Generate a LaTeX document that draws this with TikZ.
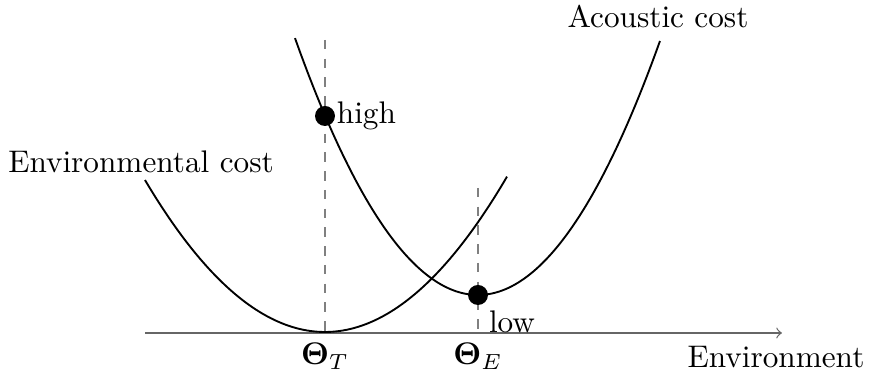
\documentclass[tikz,border=0pt]{standalone}
\usepackage{amsmath}
\usepackage{tikz}
\usetikzlibrary{positioning, arrows}

\begin{document}
\begin{tikzpicture}[x=0.32pt, y=-0.32pt, semithick,
    cost/.style={black, semithick, smooth},
    guide/.style={gray, thin, dashed},
    dot/.style={circle, fill=black, inner sep=0pt, minimum size=6.4pt}]
      \useasboundingbox (0,0) rectangle (869,383);

      % axis
      \coordinate (a0) at (145,333);
      \coordinate (a1) at (782,333);
      \draw[->, >=to, gray!80!black, thin] (a0) -- (a1);
      \node (env) at (776,357) {Environment};

      % the two costs
      \draw[cost, domain=-1.8:1.82, samples=60] plot ({325+100*\x}, {332-46.9*\x*\x});
      \draw[cost, domain=-1.83:1.82, samples=60] plot ({478+100*\x}, {295-76.7*\x*\x});
      \node (ec) at (141,162) {Environmental cost};
      \node (ac) at (658,16) {Acoustic cost};

      % guides
      \coordinate (t0) at (325,40);
      \coordinate (t1) at (325,333);
      \coordinate (e0) at (478,188);
      \coordinate (e1) at (478,333);
      \draw[guide] (t0) -- (t1);
      \draw[guide] (e0) -- (e1);

      \node[dot] (high) at (325,116) {};
      \node[dot] (low) at (478,295) {};
      \node[right=0pt of high, inner sep=0pt] {high};
      \node (lowlbl) at (512,322) {low};

      \node (thT) at (325,356) {$\boldsymbol{\Theta}_T$};
      \node (thE) at (478,356) {$\boldsymbol{\Theta}_E$};
\end{tikzpicture}
\end{document}
